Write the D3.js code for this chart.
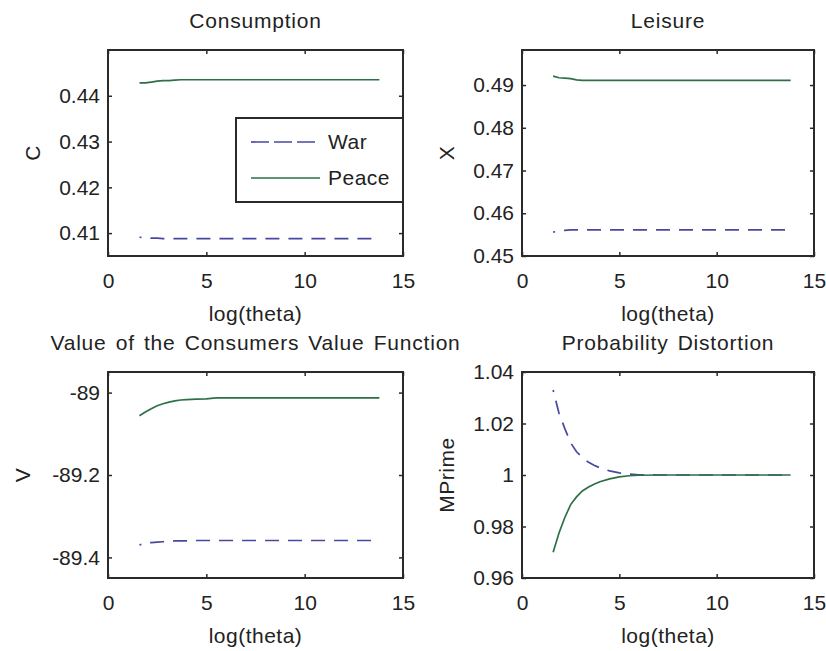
<!DOCTYPE html>
<html>
<head>
<meta charset="utf-8">
<script src="https://cdn.jsdelivr.net/npm/d3@7"></script>
<style>
  body { margin: 0; background: #fff; }
  svg { display: block; font-family: "Liberation Sans", Arial, sans-serif; }
  .tick text { font-size: 21px; fill: #222; }
  .label { font-size: 21px; fill: #222; letter-spacing: 0.5px; }
  .title { letter-spacing: 0.8px; word-spacing: 2.5px; }
</style>
</head>
<body>
<svg id="chart"></svg>
<script>
const WIDTH  = 826;
const HEIGHT = 651;

// log(theta) grid shared by every panel
const logTheta = [1.6, 1.9, 2.2, 2.5, 2.8, 3.1, 3.4, 3.7, 4.0, 4.5, 5.0, 5.5, 6.0,
                  7.0, 8.0, 9.0, 10.0, 11.0, 12.0, 13.0, 13.8];

const consWar   = [0.4091, 0.4090, 0.4089, 0.4089, 0.4088, 0.4088, 0.4088, 0.4088, 0.4088, 0.4088, 0.4088,
                   0.4088, 0.4088, 0.4088, 0.4088, 0.4088, 0.4088, 0.4088, 0.4088, 0.4088, 0.4088];
const consPeace = [0.4428, 0.4428, 0.4430, 0.4432, 0.4433, 0.4433, 0.4434, 0.4435, 0.4435, 0.4435, 0.4435,
                   0.4435, 0.4435, 0.4435, 0.4435, 0.4435, 0.4435, 0.4435, 0.4435, 0.4435, 0.4435];

const leisWar   = [0.4556, 0.4558, 0.4560, 0.4561, 0.4561, 0.4561, 0.4561, 0.4561, 0.4561, 0.4561, 0.4561,
                   0.4561, 0.4561, 0.4561, 0.4561, 0.4561, 0.4561, 0.4561, 0.4561, 0.4561, 0.4561];
const leisPeace = [0.4921, 0.4917, 0.4916, 0.4915, 0.4912, 0.4911, 0.4911, 0.4911, 0.4911, 0.4911, 0.4911,
                   0.4911, 0.4911, 0.4911, 0.4911, 0.4911, 0.4911, 0.4911, 0.4911, 0.4911, 0.4911];

const valWar    = [-89.370, -89.365, -89.364, -89.363, -89.362, -89.361, -89.360, -89.360, -89.360, -89.359, -89.359,
                   -89.359, -89.359, -89.359, -89.359, -89.359, -89.359, -89.359, -89.359, -89.359, -89.359];
const valPeace  = [-89.056, -89.047, -89.039, -89.032, -89.027, -89.023, -89.020, -89.018, -89.017, -89.016, -89.015,
                   -89.013, -89.013, -89.013, -89.013, -89.013, -89.013, -89.013, -89.013, -89.013, -89.013];

const mpWar     = [1.0330, 1.0240, 1.0180, 1.0125, 1.0090, 1.0068, 1.0050, 1.0038, 1.0028, 1.0016, 1.0008,
                   1.0004, 1.0001, 1.0000, 1.0000, 1.0000, 1.0000, 1.0000, 1.0000, 1.0000, 1.0000];
const mpPeace   = [0.9700, 0.9775, 0.9835, 0.9885, 0.9915, 0.9938, 0.9952, 0.9964, 0.9974, 0.9985, 0.9993,
                   0.9997, 0.9999, 1.0000, 1.0000, 1.0000, 1.0000, 1.0000, 1.0000, 1.0000, 1.0000];

const xTicks     = [0, 5, 10, 15];
const consTicks  = [0.41, 0.42, 0.43, 0.44];
const leisTicks  = [0.45, 0.46, 0.47, 0.48, 0.49];
const valTicks   = [-89.4, -89.2, -89];
const mpTicks    = [0.96, 0.98, 1, 1.02, 1.04];
const seriesNames = ['War', 'Peace'];

const WAR_COLOR   = '#4848a0';
const PEACE_COLOR = '#2e7046';
const INK = '#2a2a2a';

const panels = [
  { left: 108, top: 50,  w: 295, title: 'Consumption', ylabel: 'C', ylabelOff: 75,
    domain: [0.405, 0.45], ticks: consTicks, war: consWar, peace: consPeace, legend: true },
  { left: 522, top: 50,  w: 292, title: 'Leisure', ylabel: 'X', ylabelOff: 75,
    domain: [0.45, 0.4982], ticks: leisTicks, war: leisWar, peace: leisPeace },
  { left: 108, top: 372, w: 295, title: 'Value of the Consumers Value Function', ylabel: 'V', ylabelOff: 85,
    domain: [-89.45, -88.95], ticks: valTicks, war: valWar, peace: valPeace },
  { left: 522, top: 372, w: 292, title: 'Probability Distortion', ylabel: 'MPrime', ylabelOff: 75,
    domain: [0.96, 1.04], ticks: mpTicks, war: mpWar, peace: mpPeace }
];
const PH = 206;

const fmt = d => String(+d.toFixed(3));

const svg = d3.select('#chart').attr('width', WIDTH).attr('height', HEIGHT);
svg.append('rect').attr('width', WIDTH).attr('height', HEIGHT).attr('fill', '#fff');

panels.forEach(p => {
  const PW = p.w;
  const g = svg.append('g').attr('transform', `translate(${p.left},${p.top})`);
  const x = d3.scaleLinear().domain([0, 15]).range([0, PW]);
  const y = d3.scaleLinear().domain(p.domain).range([PH, 0]);

  // axes, MATLAB style: ticks pointing inward on all four sides
  const bottom = g.append('g').attr('transform', `translate(0,${PH})`)
    .call(d3.axisBottom(x).tickValues(xTicks).tickSize(-4).tickPadding(17).tickFormat(fmt));
  const left = g.append('g')
    .call(d3.axisLeft(y).tickValues(p.ticks).tickSize(-4).tickPadding(8).tickFormat(fmt));
  const top = g.append('g')
    .call(d3.axisTop(x).tickValues(xTicks).tickSize(-4).tickFormat(''));
  const right = g.append('g').attr('transform', `translate(${PW},0)`)
    .call(d3.axisRight(y).tickValues(p.ticks).tickSize(-4).tickFormat(''));
  [bottom, left, top, right].forEach(a => {
    a.select('.domain').remove();
    a.selectAll('.tick line').attr('stroke', INK).attr('stroke-width', 1.5);
  });

  const line = d3.line().x((d, i) => x(logTheta[i])).y(d => y(d));
  g.append('path').datum(p.war)
    .attr('d', line).attr('fill', 'none')
    .attr('stroke', WAR_COLOR).attr('stroke-width', 1.7)
    .attr('stroke-dasharray', '14,9').attr('stroke-dashoffset', 12);
  g.append('path').datum(p.peace)
    .attr('d', line).attr('fill', 'none')
    .attr('stroke', PEACE_COLOR).attr('stroke-width', 1.7);

  g.append('rect').attr('width', PW).attr('height', PH)
    .attr('fill', 'none').attr('stroke', INK).attr('stroke-width', 2);

  g.append('text').attr('class', 'label title')
    .attr('x', PW / 2).attr('y', -29).attr('dy', '0.35em')
    .attr('text-anchor', 'middle').text(p.title);
  g.append('text').attr('class', 'label')
    .attr('x', PW / 2).attr('y', PH + 58).attr('dy', '0.35em')
    .attr('text-anchor', 'middle').text('log(theta)');
  g.append('text').attr('class', 'label')
    .attr('transform', `translate(${-p.ylabelOff},${PH / 2}) rotate(-90)`)
    .attr('dy', '0.35em').attr('text-anchor', 'middle').text(p.ylabel);

  if (p.legend) {
    const lg = g.append('g').attr('transform', 'translate(128,68)');
    lg.append('rect').attr('width', 167).attr('height', 84)
      .attr('fill', '#fff').attr('stroke', INK).attr('stroke-width', 2);
    seriesNames.forEach((name, i) => {
      const yy = 24 + i * 36;
      lg.append('line').attr('x1', 15).attr('x2', 84).attr('y1', yy).attr('y2', yy)
        .attr('stroke', i === 0 ? WAR_COLOR : PEACE_COLOR).attr('stroke-width', 1.7)
        .attr('stroke-dasharray', i === 0 ? '18,5' : null);
      lg.append('text').attr('class', 'label')
        .attr('x', 92).attr('y', yy).attr('dy', '0.35em').text(name);
    });
  }
});
</script>
</body>
</html>
